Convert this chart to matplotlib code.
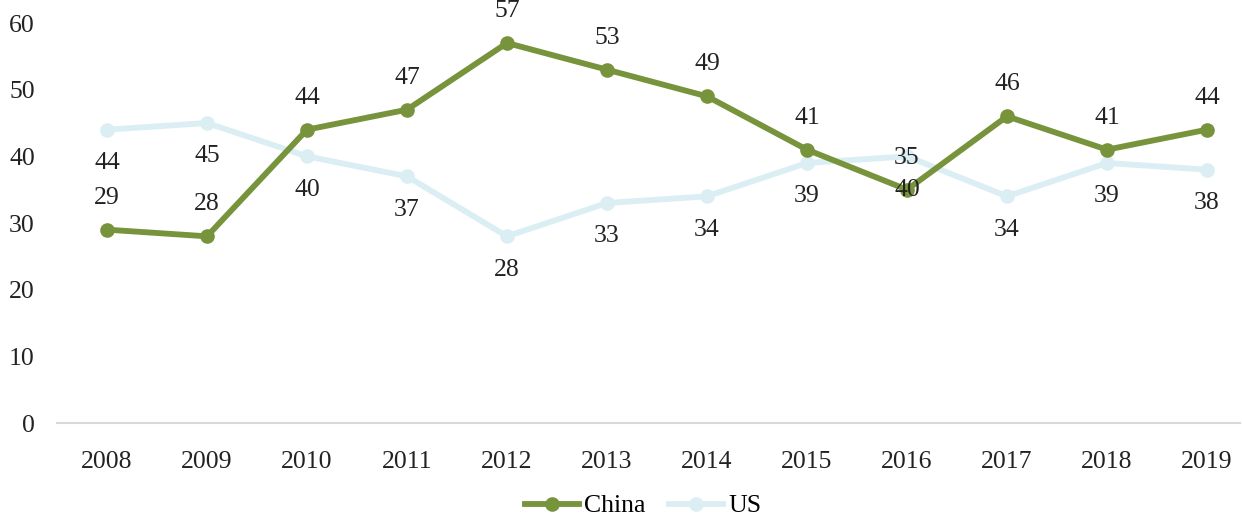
import matplotlib
matplotlib.use("Agg")
import matplotlib.pyplot as plt

years = ["2008", "2009", "2010", "2011", "2012", "2013", "2014", "2015", "2016", "2017", "2018", "2019"]
china = [29, 28, 44, 47, 57, 53, 49, 41, 35, 46, 41, 44]
us = [44, 45, 40, 37, 28, 33, 34, 39, 40, 34, 39, 38]

plt.rcParams['font.family'] = ['Liberation Serif', 'DejaVu Serif']

fig = plt.figure(figsize=(12.42, 5.18), dpi=100)
ax = fig.add_axes([57/1242, 95/518, (1240-57)/1242, 400/518])

x = list(range(len(years)))
green = "#77933C"
blue = "#DAEEF3"
FS = 18.5
ax.plot(x, us, color=blue, lw=4.2, marker="o", ms=9.5, label="US", zorder=2)
ax.plot(x, china, color=green, lw=4.2, marker="o", ms=9.5, label="China", zorder=3)

for xi, v in zip(x, china):
    ax.annotate(str(v), (xi, v), xytext=(0, 23), textcoords="offset points",
                ha="center", va="center", fontsize=FS, color="#222222")
for xi, v in zip(x, us):
    ax.annotate(str(v), (xi, v), xytext=(0, -24), textcoords="offset points",
                ha="center", va="center", fontsize=FS, color="#222222")

ax.set_ylim(0, 60)
ax.set_xlim(-0.5, 11.33)
ax.set_yticks(range(0, 61, 10))
ax.set_xticks(x)
ax.set_xticklabels(years)
ax.tick_params(axis="both", length=0, labelsize=FS, labelcolor="#222222")
ax.tick_params(axis="x", pad=20)
ax.tick_params(axis="y", pad=16)
for s in ["top", "right", "left"]:
    ax.spines[s].set_visible(False)
ax.spines["bottom"].set_color("#D9D9D9")
ax.spines["bottom"].set_linewidth(1.5)

handles, labels = ax.get_legend_handles_labels()
leg = fig.legend(handles[::-1], labels[::-1], loc="center", bbox_to_anchor=(0.518, 12/518),
                 ncol=2, frameon=False, fontsize=FS, handlelength=2.1, columnspacing=0.9,
                 handletextpad=0.2)
fig.savefig("out.png", dpi=100)
